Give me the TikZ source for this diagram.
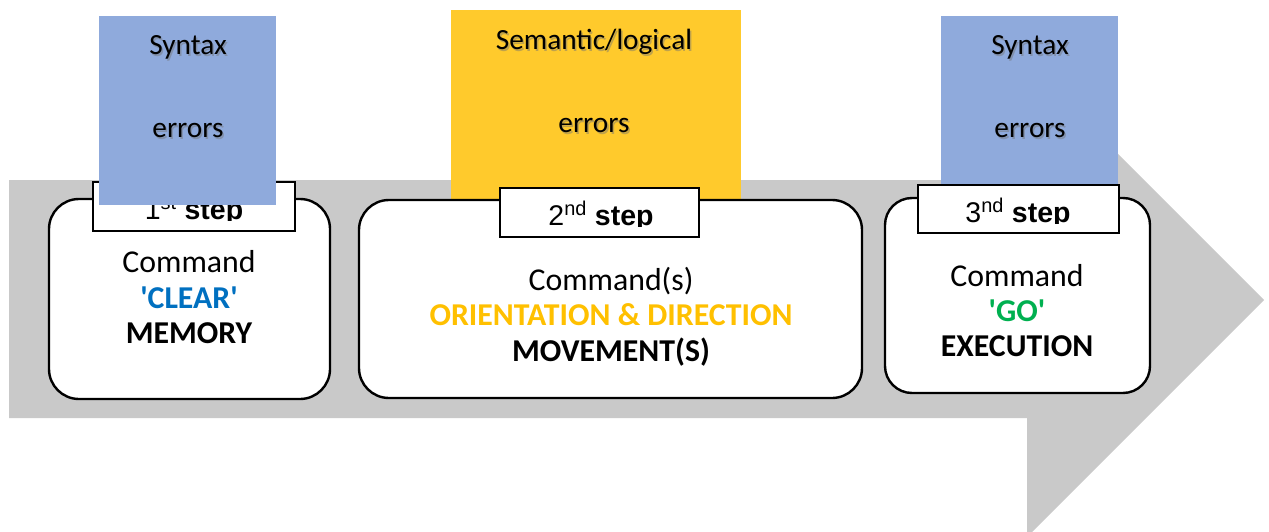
\documentclass[tikz,border=0pt]{standalone}
\usepackage{fontspec}
\newfontfamily\calibri{Carlito}
\newfontfamily\arialf{Liberation Sans}
\definecolor{arrowgray}{HTML}{C9C9C9}
\definecolor{errblue}{HTML}{8FAADC}
\definecolor{erryellow}{HTML}{FFCA2C}
\definecolor{clearblue}{HTML}{0070C0}
\definecolor{gogreen}{HTML}{00B050}
\definecolor{orientorange}{HTML}{FFC000}
\tikzset{
  cmdbox/.style={draw=black, line width=2.4pt, fill=white, rounded corners=30pt},
  steplabel/.style={draw=black, line width=1.8pt, fill=white},
  errtxt/.style={anchor=base, inner sep=0pt, font=\calibri\fontsize{29.3}{34}\selectfont},
  errshadow/.style={errtxt, text=black!55, opacity=0.45},
  cmdtxt/.style={anchor=base, inner sep=0pt, font=\calibri\fontsize{31.8}{36}\selectfont},
  boldtxt/.style={cmdtxt, font=\calibri\bfseries\fontsize{31.8}{36}\selectfont},
  steptxt/.style={anchor=base, inner sep=0pt, font=\arialf\fontsize{28.5}{32}\selectfont}
}
\newcommand{\stepword}{\textbf{step}}
\begin{document}
\begin{tikzpicture}[x=1pt,y=-1pt]
\useasboundingbox (0,0) rectangle (1269,532);
% big arrow
\fill[arrowgray] (9,180) -- (1027,180) -- (1027,63) -- (1264,300) -- (1027,537) -- (1027,418) -- (9,418) -- cycle;
% error boxes (behind)
\fill[erryellow] (451,10) rectangle (741,199);
\fill[errblue] (941,16) rectangle (1118,185);
% command boxes
\draw[cmdbox] (49,199) rectangle (330,399);
\draw[cmdbox] (359,200) rectangle (862,398);
\draw[cmdbox, rounded corners=27pt] (885,198) rectangle (1150,393);
% step labels
\draw[steplabel] (93,182) rectangle (295,231);
\draw[steplabel] (500,188) rectangle (699,237);
\draw[steplabel] (918,185) rectangle (1119,233);
\begin{scope}
  \clip (93,182) rectangle (295,220);
  \node[steptxt] (s1) at (194,219) {1\textsuperscript{st} \stepword};
\end{scope}
\begin{scope}
  \clip (500,188) rectangle (699,226);
  \node[steptxt] (s2) at (601,225) {2\textsuperscript{nd} \stepword};
\end{scope}
\begin{scope}
  \clip (918,185) rectangle (1119,223);
  \node[steptxt] (s3) at (1018,222) {3\textsuperscript{nd} \stepword};
\end{scope}
% blue box 1 on top of label 1
\fill[errblue] (99,16) rectangle (276,205);
% error texts with soft shadow
\foreach \xx/\yy/\tt in {188/55/Syntax, 188/138/errors, 1030/55/Syntax, 1030/138/errors, 594/50/Semantic\slash logical, 594/133/errors}{
  \node[errshadow] at (\xx+1.5,\yy+1.5) {\tt};
}
\node[errtxt] (e1a) at (188,55) {Syntax};
\node[errtxt] (e1b) at (188,138) {errors};
\node[errtxt] (e2a) at (594,50) {Semantic/logical};
\node[errtxt] (e2b) at (594,133) {errors};
\node[errtxt] (e3a) at (1030,55) {Syntax};
\node[errtxt] (e3b) at (1030,138) {errors};
% box 1 text
\node[cmdtxt] (c1a) at (189,272) {Command};
\node[boldtxt, text=clearblue] (c1b) at (189,308) {\textquotesingle CLEAR\textquotesingle};
\node[boldtxt] (c1c) at (189,343) {MEMORY};
% box 2 text
\node[cmdtxt] (c2a) at (611,290) {Command(s)};
\node[boldtxt, text=orientorange] (c2b) at (611,325) {ORIENTATION \& DIRECTION};
\node[boldtxt] (c2c) at (611,361) {MOVEMENT(S)};
% box 3 text
\node[cmdtxt] (c3a) at (1017,286) {Command};
\node[boldtxt, text=gogreen] (c3b) at (1017,321) {\textquotesingle GO\textquotesingle};
\node[boldtxt] (c3c) at (1017,356) {EXECUTION};
\end{tikzpicture}
\end{document}
